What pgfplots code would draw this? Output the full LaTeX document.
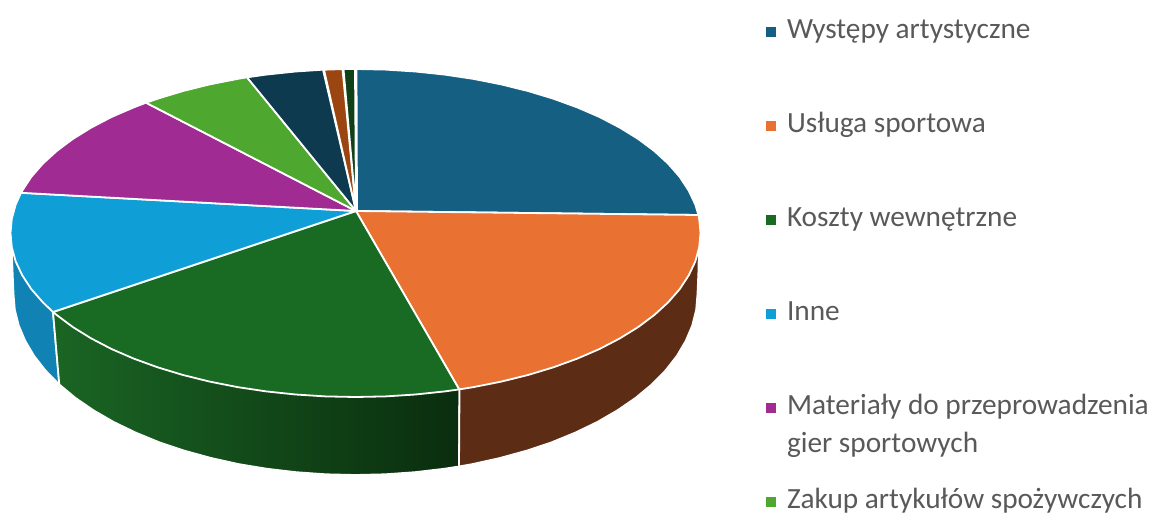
\documentclass[border=0pt]{standalone}
\usepackage{fontspec}
\setmainfont{Carlito}
\usepackage{pgfplots}
\pgfplotsset{compat=1.18}
\definecolor{c1}{HTML}{156082}
\definecolor{c2}{HTML}{E97132}
\definecolor{c3}{HTML}{196B24}
\definecolor{c4}{HTML}{0F9ED5}
\definecolor{c5}{HTML}{A02B93}
\definecolor{c6}{HTML}{4EA72E}
\definecolor{c7}{HTML}{0D3A4E}
\definecolor{c8}{HTML}{9B4510}
\definecolor{c9}{HTML}{0F4016}
\definecolor{sideblue}{HTML}{1083B4}
\definecolor{sidebrown}{HTML}{5C2C15}
\definecolor{greenA}{HTML}{1A6524}
\definecolor{greenB}{HTML}{0F4A1A}
\definecolor{greenC}{HTML}{0A2D0E}
\pgfplotsset{slice/.style={fill=#1,draw=white,line width=1.8pt,line join=round}}
\begin{document}
\begin{tikzpicture}
\useasboundingbox (0,0) rectangle (1155pt,516pt);
\begin{axis}[
    scale only axis,
    width=1155pt,
    height=516pt,
    xmin=0,xmax=1155,
    ymin=0,ymax=516,
    y dir=reverse,
    hide axis,
    clip=false,
    legend cell align=left,
    legend image code/.code={\fill[#1,draw=none] (0pt,-5pt) rectangle (10pt,5pt);},
    legend style={
        at={(axis cs:766,18)},anchor=north west,
        draw=none,fill=none,inner sep=0pt,outer sep=0pt,
        row sep=67pt,
        /tikz/every odd column/.append style={column sep=11pt},
        font=\fontsize{29.3}{38}\selectfont,
        text=black!65,
        nodes={inner sep=0pt,text height=20pt,text depth=7pt},
    },
]
% sides
\addplot[forget plot,slice=sideblue] coordinates {
    (53,312) (59.3,384.5) (45.5,370.5) (34.1,355.9) (25.2,340.8) (18.7,325.4) (14.8,309.8) (13.5,294)
    (12,258) (13,235)
} -- cycle;
\addplot[forget plot,draw=white,line width=1.8pt,line join=round,left color=greenA,middle color=greenB,right color=greenC] coordinates {
    (459.5,389) (459,466.5) (444,468.8) (414.9,472.2) (385.3,474.3) (355.5,475) (325.7,474.3) (296.1,472.2)
    (267,468.8) (238.5,464.1) (211,458) (184.5,450.7) (159.3,442.3) (135.7,432.6) (113.7,422) (93.5,410.3)
    (75.3,397.8) (59.3,384.5) (53,312)
} -- cycle;
\addplot[forget plot,slice=sidebrown] coordinates {
    (699,240) (698.5,270) (697.5,294) (696.2,309.8) (692.3,325.4) (685.8,340.8) (676.9,355.9) (665.5,370.5)
    (651.7,384.5) (635.7,397.8) (617.5,410.3) (597.3,422) (575.3,432.6) (551.7,442.3) (526.5,450.7)
    (500,458) (472.5,464.1) (459,466.5) (459.5,389)
} -- cycle;
% top faces
\addplot[slice=c1] coordinates {
    (357,211) (356.5,69) (385.6,69.6) (415.4,71.5) (444.8,74.6) (473.5,78.9) (501.3,84.4) (528,91)
    (553.4,98.7) (577.3,107.4) (599.5,117) (619.8,127.6) (638.1,138.9) (654.3,151) (668.2,163.7)
    (679.7,176.9) (688.7,190.6) (695.3,204.5) (698.4,215)
} -- cycle;
\addplot[slice=c2] coordinates {
    (356,211) (698.4,215) (699.2,218.7) (700.5,233) (699.2,247.3) (695.3,261.5) (688.7,275.4)
    (679.7,289.1) (668.2,302.3) (654.3,315) (638.1,327.1) (619.8,338.4) (599.5,349) (577.3,358.6)
    (553.4,367.3) (528,375) (501.3,381.6) (473.5,387.1) (459.2,389.4)
} -- cycle;
\addplot[slice=c3] coordinates {
    (356,211) (459.2,389.4) (444.8,391.4) (415.4,394.5) (385.6,396.4) (355.5,397) (325.4,396.4)
    (295.6,394.5) (266.2,391.4) (237.5,387.1) (209.7,381.6) (183,375) (157.6,367.3) (133.7,358.6)
    (111.5,349) (91.2,338.4) (72.9,327.1) (56.7,315) (53,312)
} -- cycle;
\addplot[slice=c4] coordinates {
    (356,211) (53,312) (42.8,302.3) (31.3,289.1) (22.3,275.4) (15.7,261.5) (11.8,247.3) (10.5,233)
    (11.8,218.7) (15.7,204.5) (21,192.8)
} -- cycle;
\addplot[slice=c5] coordinates {
    (356,211) (21,192.8) (22.3,190.6) (31.3,176.9) (42.8,163.7) (56.7,151) (72.9,138.9) (91.2,127.6)
    (111.5,117) (133.7,107.4) (146,102.7)
} -- cycle;
\addplot[slice=c6] coordinates {
    (356,211) (146,102.7) (157.6,98.7) (183,91) (209.7,84.4) (237.5,78.9) (247,77.3)
} -- cycle;
\addplot[slice=c7] coordinates {
    (356,211) (247,77.3) (266.2,74.6) (295.6,71.5) (323,69.7)
} -- cycle;
\addplot[slice=c8] coordinates {
    (356,211) (324,69.7) (342.5,69.1)
} -- cycle;
\addplot[slice=c9] coordinates {
    (356,211) (343.5,69) (355,69)
} -- cycle;
\legend{Występy artystyczne,Usługa sportowa,Koszty wewnętrzne,Inne,{\vtop to 0pt{\hbox{Materiały do przeprowadzenia}\hbox{gier sportowych}\vss}},Zakup artykułów spożywczych}
\end{axis}
\end{tikzpicture}
\end{document}
